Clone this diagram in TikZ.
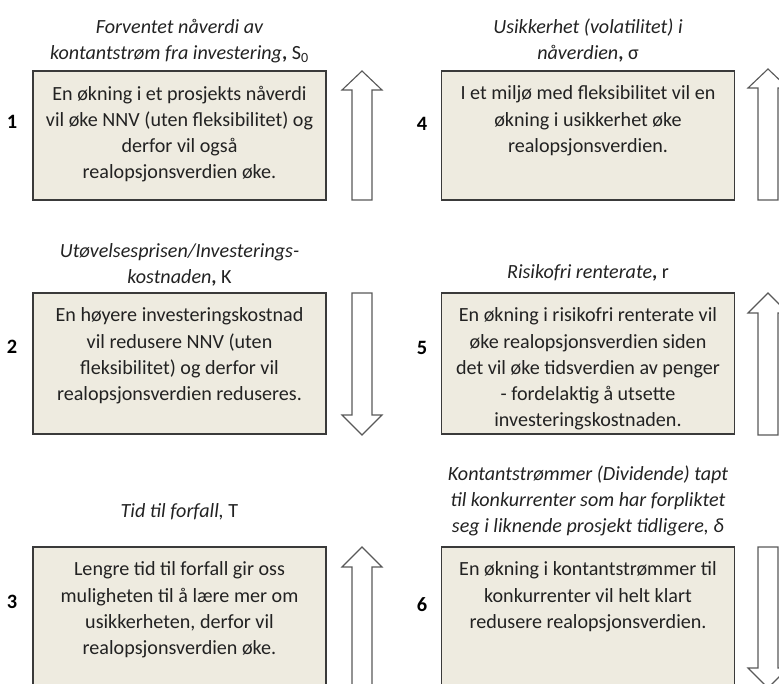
\documentclass[tikz,border=0pt]{standalone}
\usepackage{fontspec}
\setmainfont{Carlito}
\usetikzlibrary{positioning}
\definecolor{boxfill}{HTML}{EEEBE0}
\definecolor{boxline}{HTML}{3A3A3A}
\definecolor{txt}{HTML}{222222}

\tikzset{
  box/.style={draw=boxline, line width=1pt, fill=boxfill, minimum width=7.325cm, inner sep=0pt},
  boxtext/.style={align=center, font=\fontsize{14.3}{18.5}\selectfont, text=txt, inner sep=3pt},
  title/.style={align=center, font=\fontsize{14.3}{18.5}\selectfont\itshape, text=txt},
  num/.style={font=\fontsize{14.5}{16}\selectfont\bfseries, text=black},
  bigarrow/.style={draw=black!65, line width=0.8pt, fill=white}
}

\begin{document}
\begin{tikzpicture}[x=0.025cm, y=-0.025cm]
\path[use as bounding box, clip] (0,0) rectangle (779,684);

% boxes
\node[box, minimum height=3.225cm] (box1) at (179.5,135.5) {};
\node[box, minimum height=3.525cm] (box2) at (179.5,363.5) {};
\node[box, minimum height=4cm] (box3) at (179.5,627) {};
\node[box, minimum height=3.225cm] (box4) at (588,135.5) {};
\node[box, minimum height=3.525cm] (box5) at (588,363.5) {};
\node[box, minimum height=4cm] (box6) at (588,627) {};

% text inside
\node[boxtext, below=8pt of box1.north] (txt1) {En økning i et prosjekts nåverdi\\ vil øke NNV (uten fleksibilitet) og\\ derfor vil også\\ realopsjonsverdien øke.};
\node[boxtext, below=8pt of box2.north] (txt2) {En høyere investeringskostnad\\ vil redusere NNV (uten\\ fleksibilitet) og derfor vil\\ realopsjonsverdien reduseres.};
\node[boxtext, below=8pt of box3.north] (txt3) {Lengre tid til forfall gir oss\\ muligheten til å lære mer om\\ usikkerheten, derfor vil\\ realopsjonsverdien øke.};
\node[boxtext, below=8pt of box4.north] (txt4) {I et miljø med fleksibilitet vil en\\ økning i usikkerhet øke\\ realopsjonsverdien.};
\node[boxtext, below=8pt of box5.north] (txt5) {En økning i risikofri renterate vil\\ øke realopsjonsverdien siden\\ det vil øke tidsverdien av penger\\ - fordelaktig å utsette\\ investeringskostnaden.};
\node[boxtext, below=8pt of box6.north] (txt6) {En økning i kontantstrømmer til\\ konkurrenter vil helt klart\\ redusere realopsjonsverdien.};

% titles
\node[title, above=2pt of box1.north] (title1) {Forventet nåverdi av\\ kontantstrøm fra investering\textup{\textbf{,} S\textsubscript{0}}};
\node[title, above=0.5pt of box2.north] (title2) {Utøvelsesprisen/Investerings-\\ kostnaden\textup{\textbf{,} K}};
\node[title, above=15pt of box3.north] (title3) {Tid til forfall, \textup{T}};
\node[title, above=2pt of box4.north] (title4) {Usikkerhet (volatilitet) i\\ nåverdien\textup{\textbf{,} σ}};
\node[title, above=4pt of box5.north] (title5) {Risikofri renterate\textup{\textbf{,} r}};
\node[title, above=4pt of box6.north] (title6) {Kontantstrømmer (Dividende) tapt\\ til konkurrenter som har forpliktet\\ seg i liknende prosjekt tidligere, δ};

% numbers
\node[num] (n1) at (12,122) {1};
\node[num] (n2) at (12,347) {2};
\node[num] (n3) at (12,602) {3};
\node[num] (n4) at (422,124) {4};
\node[num] (n5) at (422,348) {5};
\node[num] (n6) at (422,605) {6};

% up arrows
\foreach \x/\t/\h/\b in {362/71/90/200, 768/69/88/200, 768/293/313/435, 362/547/567/700}
  \draw[bigarrow] (\x-10,\b) -- (\x-10,\h) -- (\x-20,\h) -- (\x,\t) -- (\x+20,\h) -- (\x+10,\h) -- (\x+10,\b) -- cycle;
% down arrows
\foreach \x/\t/\h/\b in {362/293/415/435, 768/547/668/688}
  \draw[bigarrow] (\x-10,\t) -- (\x-10,\h) -- (\x-20,\h) -- (\x,\b) -- (\x+20,\h) -- (\x+10,\h) -- (\x+10,\t) -- cycle;
\end{tikzpicture}
\end{document}
